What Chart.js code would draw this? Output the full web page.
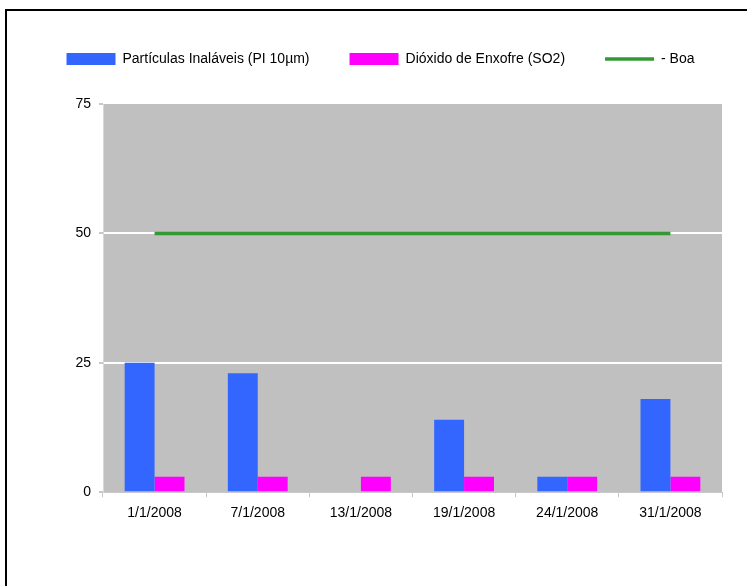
<!DOCTYPE html>
<html>
<head>
<meta charset="utf-8">
<script src="https://cdn.jsdelivr.net/npm/chart.js@4/dist/chart.umd.min.js"></script>
<style>
  html, body { margin: 0; padding: 0; background: #fff; overflow: hidden; width: 747px; height: 586px; }
  #frame { position: absolute; left: 5px; top: 9px; width: 820px; height: 640px; border: 2px solid #000; box-sizing: border-box; }
  #chart { position: absolute; left: 0; top: 0; }
</style>
</head>
<body>
<div id="frame"></div>
<canvas id="chart" width="761" height="586"></canvas>
<script>
// Sampling dates
const categories = ['1/1/2008', '7/1/2008', '13/1/2008', '19/1/2008', '24/1/2008', '31/1/2008'];
// Concentrations per pollutant
const pm10Values = [25, 23, null, 14, 3, 18];
const so2Values = [3, 3, 3, 3, 3, 3];
// "Boa" (good) threshold
const boaValues = [50, 50, 50, 50, 50, 50];
// Y axis ticks
const yTicks = [0, 25, 50, 75];

const FONT = 'Liberation Sans, Arial, sans-serif';

// Grey plotting area behind the bars
const plotBackground = {
  id: 'plotBackground',
  beforeDraw(chart) {
    const { ctx, chartArea: a } = chart;
    ctx.save();
    ctx.fillStyle = '#c0c0c0';
    ctx.fillRect(a.left, a.top, a.right - a.left, a.bottom - a.top);
    ctx.restore();
  }
};

// Leave room between the legend and the plot
const legendSpacing = {
  id: 'legendSpacing',
  afterInit(chart) {
    const fit = chart.legend.fit;
    chart.legend.fit = function () {
      fit.call(this);
      this.height += 28;
    };
  }
};

new Chart(document.getElementById('chart'), {
  data: {
    labels: categories,
    datasets: [
      {
        type: 'bar',
        label: 'Partículas Inaláveis (PI 10µm)',
        data: pm10Values,
        backgroundColor: '#3366ff',
        categoryPercentage: 0.58,
        barPercentage: 1.0
      },
      {
        type: 'bar',
        label: 'Dióxido de Enxofre (SO2)',
        data: so2Values,
        backgroundColor: '#ff00ff',
        categoryPercentage: 0.58,
        barPercentage: 1.0
      },
      {
        type: 'line',
        label: '- Boa',
        data: boaValues,
        borderColor: '#339933',
        backgroundColor: '#339933',
        borderWidth: 3.5,
        pointRadius: 0,
        fill: false
      }
    ]
  },
  options: {
    responsive: false,
    animation: false,
    layout: { padding: { left: 0, right: 0, top: 12, bottom: 56 } },
    plugins: {
      tooltip: { enabled: false },
      legend: {
        position: 'top',
        labels: {
          font: { family: FONT, size: 14 },
          color: '#000',
          padding: 40,
          usePointStyle: true,
          pointStyleWidth: 49,
          boxHeight: 12,
          generateLabels(chart) {
            const items = Chart.defaults.plugins.legend.labels.generateLabels(chart);
            return items.map(item => {
              const ds = chart.data.datasets[item.datasetIndex];
              if (ds.type === 'line') {
                item.pointStyle = 'line';
                item.strokeStyle = ds.borderColor;
                item.lineWidth = 3.5;
              } else {
                item.pointStyle = 'rect';
                item.lineWidth = 0;
              }
              return item;
            });
          }
        }
      }
    },
    scales: {
      x: {
        grid: {
          offset: true,
          drawOnChartArea: false,
          drawTicks: true,
          tickLength: 5,
          tickColor: '#c8c8c8'
        },
        border: { display: true, color: '#c8c8c8', width: 1 },
        ticks: { font: { family: FONT, size: 14 }, color: '#000', padding: 8, maxRotation: 0 }
      },
      y: {
        min: 0,
        max: 75,
        afterFit(scale) { scale.width = 103; },
        afterBuildTicks(scale) { scale.ticks = yTicks.map(v => ({ value: v })); },
        grid: {
          color: ctx => (ctx.tick && (ctx.tick.value === 25 || ctx.tick.value === 50)) ? '#ffffff' : 'rgba(0,0,0,0)',
          lineWidth: 2,
          drawTicks: true,
          tickLength: 4,
          tickColor: '#c8c8c8'
        },
        border: { display: true, color: '#d8d8d8', width: 1 },
        ticks: { font: { family: FONT, size: 14 }, color: '#000', padding: 8 }
      },
      // Empty margin on the right of the plot
      yRight: {
        position: 'right',
        afterFit(scale) { scale.width = 39; },
        grid: { display: false },
        border: { display: false },
        ticks: { display: false }
      }
    }
  },
  plugins: [plotBackground, legendSpacing]
});
</script>
</body>
</html>
